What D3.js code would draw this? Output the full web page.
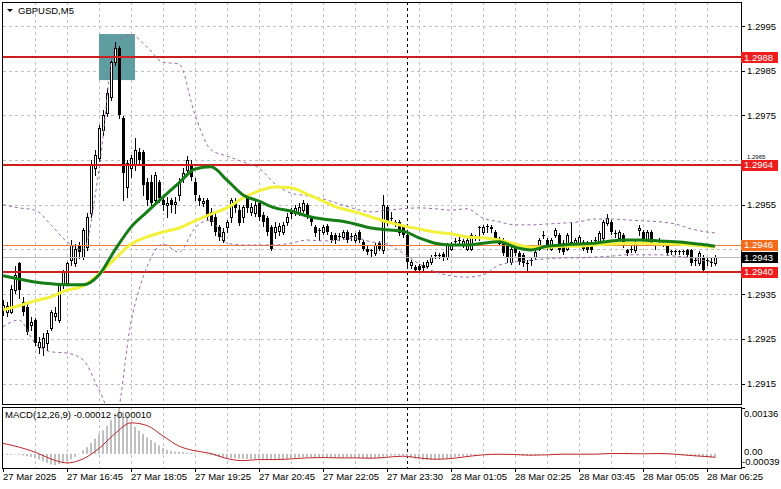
<!DOCTYPE html>
<html><head><meta charset="utf-8">
<script src="https://cdn.jsdelivr.net/npm/d3@7"></script>
<style>
body{margin:0;background:#fff}
svg{display:block}
text{font-family:"Liberation Sans",Arial,sans-serif;font-size:9.5px;fill:#000}
</style>
</head><body>
<svg id="chart" width="781" height="489"></svg>
<script>
// ---------------- DATA ----------------
const symbolTitle = "GBPUSD,M5";
const macdTitle = "MACD(12,26,9) -0.00012 -0.00010";
const timeTickBars = [0,16,32,48,64,80,96,112,128,144,160,176];
const timeLabels = ["27 Mar 2025","27 Mar 16:45","27 Mar 18:05","27 Mar 19:25","27 Mar 20:45","27 Mar 22:05",
  "27 Mar 23:30","28 Mar 01:05","28 Mar 02:25","28 Mar 03:45","28 Mar 05:05","28 Mar 06:25"];
const priceTicks = [1.2915,1.2925,1.2935,1.2945,1.2955,1.2965,1.2975,1.2985,1.2995];
const macdTicks = [0.00136, 0.00, -0.00039];
const redLevels = [1.2988, 1.2964, 1.2940];
const orangeLevel = 1.2946;
const daySeparatorBar = 101;
const highlightBox = {fromBar:24, toBar:33, top:1.29932, bottom:1.29829};

// candles: [open, high, low, close]
const ohlc = [
[1.29315,1.29337,1.29303,1.29326],[1.29310,1.29333,1.29301,1.29324],[1.29310,1.29371,1.29308,1.29362],[1.29359,1.29413,1.29353,1.29393],
[1.29419,1.29422,1.29342,1.29359],[1.29333,1.29344,1.29303,1.29310],[1.29321,1.29330,1.29261,1.29265],[1.29281,1.29299,1.29270,1.29288],
[1.29292,1.29297,1.29236,1.29240],[1.29232,1.29254,1.29218,1.29243],[1.29232,1.29263,1.29214,1.29252],[1.29240,1.29270,1.29225,1.29263],
[1.29274,1.29315,1.29270,1.29310],[1.29301,1.29321,1.29292,1.29308],[1.29292,1.29375,1.29288,1.29371],[1.29371,1.29404,1.29364,1.29400],
[1.29375,1.29422,1.29371,1.29419],[1.29426,1.29471,1.29415,1.29460],[1.29419,1.29462,1.29413,1.29452],[1.29460,1.29467,1.29431,1.29444],
[1.29433,1.29498,1.29429,1.29494],[1.29455,1.29532,1.29449,1.29523],[1.29532,1.29650,1.29523,1.29639],[1.29632,1.29673,1.29617,1.29661],
[1.29655,1.29729,1.29648,1.29722],[1.29717,1.29762,1.29706,1.29751],[1.29755,1.29812,1.29749,1.29800],[1.29791,1.29878,1.29784,1.29869],
[1.29869,1.29914,1.29863,1.29901],[1.29901,1.29905,1.29744,1.29751],[1.29744,1.29749,1.29561,1.29621],[1.29590,1.29650,1.29567,1.29644],
[1.29632,1.29661,1.29612,1.29655],[1.29639,1.29699,1.29628,1.29673],[1.29668,1.29677,1.29639,1.29650],[1.29668,1.29673,1.29572,1.29594],
[1.29601,1.29610,1.29550,1.29561],[1.29601,1.29617,1.29547,1.29554],[1.29561,1.29623,1.29554,1.29617],[1.29601,1.29605,1.29556,1.29565],
[1.29561,1.29572,1.29538,1.29550],[1.29550,1.29567,1.29523,1.29554],[1.29561,1.29565,1.29534,1.29550],[1.29552,1.29567,1.29532,1.29556],
[1.29572,1.29610,1.29561,1.29601],[1.29610,1.29632,1.29601,1.29621],[1.29628,1.29659,1.29621,1.29650],[1.29639,1.29650,1.29605,1.29612],
[1.29601,1.29610,1.29561,1.29572],[1.29565,1.29572,1.29550,1.29558],[1.29554,1.29565,1.29547,1.29558],[1.29561,1.29565,1.29516,1.29523],
[1.29534,1.29543,1.29505,1.29512],[1.29523,1.29532,1.29482,1.29489],[1.29500,1.29505,1.29471,1.29478],[1.29471,1.29498,1.29467,1.29489],
[1.29500,1.29516,1.29489,1.29512],[1.29523,1.29565,1.29512,1.29561],[1.29556,1.29565,1.29534,1.29543],[1.29538,1.29550,1.29505,1.29509],
[1.29523,1.29550,1.29512,1.29545],[1.29567,1.29572,1.29534,1.29543],[1.29534,1.29554,1.29527,1.29545],[1.29532,1.29561,1.29525,1.29550],
[1.29554,1.29561,1.29516,1.29523],[1.29527,1.29534,1.29503,1.29512],[1.29520,1.29525,1.29482,1.29489],[1.29500,1.29505,1.29449,1.29452],
[1.29489,1.29512,1.29476,1.29500],[1.29491,1.29509,1.29482,1.29503],[1.29489,1.29512,1.29484,1.29505],[1.29512,1.29532,1.29505,1.29523],
[1.29534,1.29543,1.29520,1.29530],[1.29532,1.29550,1.29527,1.29543],[1.29534,1.29554,1.29527,1.29545],[1.29538,1.29561,1.29534,1.29554],
[1.29550,1.29554,1.29520,1.29527],[1.29520,1.29523,1.29505,1.29512],[1.29500,1.29505,1.29480,1.29487],[1.29494,1.29498,1.29471,1.29491],
[1.29489,1.29505,1.29484,1.29500],[1.29503,1.29507,1.29484,1.29489],[1.29482,1.29489,1.29467,1.29471],[1.29482,1.29487,1.29464,1.29471],
[1.29478,1.29487,1.29471,1.29480],[1.29478,1.29494,1.29473,1.29489],[1.29489,1.29494,1.29467,1.29471],[1.29478,1.29487,1.29471,1.29480],
[1.29471,1.29487,1.29467,1.29482],[1.29489,1.29494,1.29467,1.29471],[1.29467,1.29471,1.29449,1.29452],[1.29452,1.29457,1.29440,1.29444],
[1.29447,1.29452,1.29433,1.29449],[1.29442,1.29464,1.29438,1.29460],[1.29464,1.29469,1.29449,1.29452],[1.29449,1.29572,1.29442,1.29550],
[1.29545,1.29550,1.29505,1.29512],[1.29518,1.29534,1.29516,1.29520],[1.29512,1.29516,1.29503,1.29509],[1.29512,1.29516,1.29482,1.29487],
[1.29500,1.29505,1.29478,1.29482],[1.29482,1.29487,1.29415,1.29422],[1.29415,1.29426,1.29409,1.29422],[1.29411,1.29415,1.29400,1.29404],
[1.29413,1.29417,1.29400,1.29404],[1.29415,1.29422,1.29404,1.29409],[1.29413,1.29426,1.29409,1.29422],[1.29422,1.29438,1.29417,1.29433],
[1.29435,1.29444,1.29431,1.29438],[1.29435,1.29442,1.29431,1.29438],[1.29440,1.29444,1.29426,1.29431],[1.29433,1.29464,1.29429,1.29460],
[1.29452,1.29467,1.29449,1.29462],[1.29467,1.29476,1.29462,1.29469],[1.29469,1.29478,1.29464,1.29471],[1.29460,1.29473,1.29455,1.29469],
[1.29452,1.29476,1.29449,1.29471],[1.29452,1.29487,1.29449,1.29482],[1.29476,1.29482,1.29471,1.29478],[1.29498,1.29502,1.29471,1.29500],
[1.29489,1.29505,1.29484,1.29500],[1.29503,1.29507,1.29489,1.29500],[1.29500,1.29505,1.29489,1.29496],[1.29489,1.29494,1.29467,1.29471],
[1.29464,1.29478,1.29460,1.29473],[1.29471,1.29476,1.29438,1.29442],[1.29460,1.29464,1.29422,1.29431],[1.29422,1.29460,1.29417,1.29452],
[1.29455,1.29460,1.29438,1.29442],[1.29442,1.29447,1.29417,1.29422],[1.29438,1.29442,1.29413,1.29419],[1.29417,1.29426,1.29402,1.29419],
[1.29424,1.29431,1.29415,1.29426],[1.29433,1.29449,1.29429,1.29444],[1.29452,1.29476,1.29449,1.29471],[1.29480,1.29491,1.29476,1.29482],
[1.29471,1.29476,1.29450,1.29455],[1.29452,1.29476,1.29449,1.29471],[1.29482,1.29498,1.29478,1.29494],[1.29482,1.29487,1.29444,1.29449],
[1.29464,1.29471,1.29440,1.29444],[1.29452,1.29487,1.29449,1.29482],[1.29464,1.29509,1.29460,1.29467],[1.29464,1.29476,1.29460,1.29471],
[1.29464,1.29482,1.29460,1.29478],[1.29467,1.29471,1.29449,1.29452],[1.29464,1.29469,1.29444,1.29449],[1.29467,1.29471,1.29444,1.29449],
[1.29469,1.29478,1.29464,1.29471],[1.29464,1.29491,1.29460,1.29487],[1.29476,1.29516,1.29471,1.29512],[1.29509,1.29529,1.29505,1.29520],
[1.29512,1.29516,1.29484,1.29489],[1.29484,1.29494,1.29478,1.29487],[1.29476,1.29494,1.29471,1.29489],[1.29482,1.29487,1.29455,1.29460],
[1.29449,1.29452,1.29438,1.29442],[1.29450,1.29460,1.29444,1.29452],[1.29449,1.29469,1.29444,1.29464],[1.29494,1.29505,1.29482,1.29498],
[1.29489,1.29494,1.29467,1.29471],[1.29464,1.29494,1.29460,1.29489],[1.29489,1.29494,1.29460,1.29464],[1.29457,1.29464,1.29452,1.29460],
[1.29469,1.29476,1.29464,1.29471],[1.29464,1.29469,1.29457,1.29462],[1.29464,1.29469,1.29438,1.29442],[1.29444,1.29449,1.29440,1.29447],
[1.29447,1.29449,1.29440,1.29444],[1.29444,1.29449,1.29440,1.29447],[1.29447,1.29449,1.29440,1.29444],[1.29449,1.29452,1.29433,1.29438],
[1.29449,1.29452,1.29415,1.29419],[1.29424,1.29433,1.29415,1.29426],[1.29419,1.29447,1.29415,1.29442],[1.29433,1.29438,1.29400,1.29404],
[1.29424,1.29433,1.29415,1.29426],[1.29422,1.29431,1.29413,1.29419],[1.29419,1.29438,1.29415,1.29433]
];

// indicator samples, read every 4 bars (bars 0,4,...,176) plus the last bar 178
const indBars = [0,4,8,12,16,20,24,28,32,36,40,44,48,52,56,60,64,68,72,76,80,84,88,92,96,100,104,108,112,116,120,124,128,132,136,140,144,148,152,156,160,164,168,172,176,178];
const maGreen = [1.29391,1.29384,1.29377,1.29373,1.29371,1.29371,1.29393,1.29449,1.29500,1.29534,1.29567,1.29599,1.29630,1.29635,1.29605,1.29572,
  1.29558,1.29543,1.29536,1.29525,1.29518,1.29514,1.29507,1.29498,1.29494,1.29491,1.29476,1.29464,1.29460,1.29460,1.29464,1.29467,
  1.29455,1.29449,1.29457,1.29460,1.29462,1.29464,1.29469,1.29471,1.29471,1.29469,1.29467,1.29464,1.29460,1.29457];
const maYellow = [1.29315,1.29324,1.29335,1.29344,1.29359,1.29368,1.29395,1.29429,1.29462,1.29478,1.29489,1.29498,1.29514,1.29529,1.29543,1.29565,
  1.29581,1.29590,1.29588,1.29574,1.29558,1.29543,1.29534,1.29523,1.29512,1.29503,1.29496,1.29489,1.29485,1.29478,1.29476,1.29471,
  1.29462,1.29455,1.29455,1.29457,1.29457,1.29460,1.29462,1.29464,1.29464,1.29462,1.29462,1.29460,1.29457,1.29455];
const bandUpper = [1.29550,1.29543,1.29538,1.29505,1.29467,1.29449,1.29628,1.29907,1.29930,1.29903,1.29869,1.29865,1.29751,1.29673,1.29659,1.29646,
  1.29632,1.29597,1.29576,1.29570,1.29563,1.29552,1.29541,1.29534,1.29538,1.29541,1.29543,1.29541,1.29538,1.29541,1.29520,1.29512,
  1.29505,1.29505,1.29507,1.29509,1.29512,1.29518,1.29518,1.29516,1.29514,1.29512,1.29507,1.29496,1.29489,1.29487];
const bandLower = [1.29277,1.29292,1.29240,1.29221,1.29218,1.29203,1.29136,1.29069,1.29288,1.29411,1.29462,1.29444,1.29498,1.29516,1.29464,1.29460,
  1.29460,1.29460,1.29464,1.29471,1.29469,1.29471,1.29476,1.29467,1.29462,1.29442,1.29418,1.29400,1.29391,1.29388,1.29393,1.29415,
  1.29422,1.29426,1.29429,1.29431,1.29431,1.29433,1.29435,1.29438,1.29438,1.29438,1.29435,1.29431,1.29424,1.29422];
const macdSignal = [0.00031,0.00020,0.00005,-0.00015,-0.00027,-0.00015,0.00016,0.00060,0.00092,0.00084,0.00053,0.00023,0.00009,0.00001,-0.00014,-0.00020,
  -0.00017,-0.00017,-0.00015,-0.00012,-0.00011,-0.00012,-0.00012,-0.00013,-0.00010,-0.00007,-0.00012,-0.00016,-0.00014,-0.00008,-0.00003,-0.00001,
  -0.00002,-0.00004,-0.00003,-0.00001,-0.00001,-0.00001,0.00001,0.00001,0.00000,0.00001,-0.00001,-0.00005,-0.00008,-0.00010];
// MACD main line (histogram), one value per bar
const macdHist = [
-0.00002,-0.00003,-0.00003,-0.00002,-0.00003,-0.00005,-0.00007,-0.00009,-0.00013,-0.00017,
-0.00022,-0.00027,-0.00031,-0.00033,-0.00031,-0.00027,-0.00022,-0.00016,-0.00009,-0.00001,
0.00010,0.00020,0.00032,0.00045,0.00058,0.00070,0.00083,0.00100,0.00120,0.00136,
0.00125,0.00110,0.00092,0.00080,0.00069,0.00059,0.00049,0.00041,0.00033,0.00025,
0.00017,0.00012,0.00009,0.00007,0.00006,0.00005,0.00004,0.00003,0.00002,0.00000,
-0.00001,-0.00002,-0.00004,-0.00007,-0.00010,-0.00012,-0.00013,-0.00013,-0.00013,-0.00014,
-0.00015,-0.00015,-0.00015,-0.00016,-0.00016,-0.00016,-0.00017,-0.00018,-0.00018,-0.00017,
-0.00016,-0.00015,-0.00014,-0.00012,-0.00011,-0.00010,-0.00010,-0.00010,-0.00011,-0.00011,
-0.00011,-0.00011,-0.00012,-0.00012,-0.00012,-0.00012,-0.00012,-0.00012,-0.00012,-0.00012,
-0.00013,-0.00014,-0.00014,-0.00013,-0.00013,-0.00008,-0.00006,-0.00005,-0.00005,-0.00005,
-0.00005,-0.00008,-0.00011,-0.00014,-0.00016,-0.00018,-0.00018,-0.00018,-0.00017,-0.00016,
-0.00015,-0.00013,-0.00011,-0.00009,-0.00008,-0.00007,-0.00006,-0.00005,-0.00004,-0.00002,
-0.00001,0.00000,0.00000,-0.00001,-0.00001,-0.00002,-0.00003,-0.00003,-0.00003,-0.00004,
-0.00005,-0.00005,-0.00005,-0.00004,-0.00003,-0.00002,-0.00002,-0.00001,-0.00001,-0.00001,
-0.00001,-0.00001,-0.00001,-0.00001,-0.00001,-0.00001,-0.00001,-0.00001,-0.00001,0.00000,
0.00001,0.00002,0.00002,0.00002,0.00002,0.00001,0.00000,0.00000,0.00000,0.00001,
0.00001,0.00001,0.00001,0.00001,0.00000,0.00000,-0.00001,-0.00002,-0.00003,-0.00003,
-0.00004,-0.00005,-0.00006,-0.00007,-0.00008,-0.00009,-0.00010,-0.00011,-0.00012
];

// ---------------- LAYOUT ----------------
const L = 3, R = 741, T = 2, B = 404, MT = 407, MB = 468;
const svg = d3.select("#chart");
svg.append("rect").attr("width",781).attr("height",489).attr("fill","#fff");

const x = d3.scaleLinear().domain([0, 178]).range([3, 715]);
const y = d3.scaleLinear().domain([1.2915, 1.2995]).range([383.5, 26]);
const ym = d3.scaleLinear().domain([-0.00039, 0.00136]).range([467, 408]);

const defs = svg.append("defs");
defs.append("clipPath").attr("id","mainClip").append("rect").attr("x",L).attr("y",T+1).attr("width",R-L).attr("height",B-T-1);
defs.append("clipPath").attr("id","macdClip").append("rect").attr("x",L).attr("y",MT+1).attr("width",R-L).attr("height",MB-MT-1);

const gridColor = "#c0c0c0";
const gridBars = d3.range(8, 179, 8);
[[T,B],[MT,MB]].forEach(([a,b])=>{
  svg.append("g").selectAll("line").data(gridBars).join("line")
    .attr("x1",d=>Math.round(x(d))+0.5).attr("x2",d=>Math.round(x(d))+0.5)
    .attr("y1",a).attr("y2",b)
    .attr("stroke",gridColor).attr("stroke-dasharray","3,3");
});
svg.append("g").selectAll("line").data(priceTicks).join("line")
  .attr("x1",L).attr("x2",R)
  .attr("y1",d=>Math.round(y(d))+0.5).attr("y2",d=>Math.round(y(d))+0.5)
  .attr("stroke",gridColor).attr("stroke-dasharray","3,3");

[[T,B],[MT,MB]].forEach(([a,b])=>{
  svg.append("line").attr("x1",Math.round(x(daySeparatorBar))+0.5).attr("x2",Math.round(x(daySeparatorBar))+0.5)
    .attr("y1",a).attr("y2",b).attr("stroke","#000").attr("stroke-dasharray","3,3");
});

const main = svg.append("g").attr("clip-path","url(#mainClip)");

main.append("rect")
  .attr("x",x(highlightBox.fromBar)).attr("y",y(highlightBox.top))
  .attr("width",x(highlightBox.toBar)-x(highlightBox.fromBar))
  .attr("height",y(highlightBox.bottom)-y(highlightBox.top))
  .attr("fill","#5f9ea0");

const cg = main.append("g");
ohlc.forEach((d,i)=>{
  const [o,h,l,c] = d;
  const cx = Math.round(x(i));
  const yh = Math.round(y(h)), yl = Math.round(y(l));
  const yo = Math.round(y(o)), yc = Math.round(y(c));
  cg.append("line").attr("x1",cx+0.5).attr("x2",cx+0.5).attr("y1",yh).attr("y2",yl+1).attr("stroke","#000");
  const top = Math.min(yo,yc), bot = Math.max(yo,yc);
  if (c >= o && bot - top >= 2) {
    cg.append("rect").attr("x",cx-0.5).attr("y",top+0.5).attr("width",2).attr("height",bot-top)
      .attr("fill","#fff").attr("stroke","#000");
  } else {
    cg.append("rect").attr("x",cx-1).attr("y",top).attr("width",3).attr("height",Math.max(bot-top,1)).attr("fill","#000");
  }
});

const lastClose = ohlc[ohlc.length-1][3];
main.append("line").attr("x1",L).attr("x2",R).attr("y1",Math.round(y(lastClose))+0.5).attr("y2",Math.round(y(lastClose))+0.5)
  .attr("stroke","#b8b8b8");
main.append("line").attr("x1",L).attr("x2",R).attr("y1",Math.round(y(orangeLevel))+0.5).attr("y2",Math.round(y(orangeLevel))+0.5)
  .attr("stroke","#e8803a");
main.append("g").selectAll("line").data(redLevels).join("line")
  .attr("x1",L).attr("x2",R).attr("y1",d=>Math.round(y(d))).attr("y2",d=>Math.round(y(d)))
  .attr("stroke","#cc1f1f").attr("stroke-width",2);

const lineGen = arr => d3.line().x((d,k)=>x(indBars[k])).y(d=>y(d)).curve(d3.curveMonotoneX)(arr);
main.append("path").attr("d",lineGen(bandUpper)).attr("fill","none").attr("stroke","#9a6aa8").attr("stroke-dasharray","3,3");
main.append("path").attr("d",lineGen(bandLower)).attr("fill","none").attr("stroke","#9a6aa8").attr("stroke-dasharray","3,3");
main.append("path").attr("d",lineGen(maYellow)).attr("fill","none").attr("stroke","#f2f23c").attr("stroke-width",3);
main.append("path").attr("d",lineGen(maGreen)).attr("fill","none").attr("stroke","#167d16").attr("stroke-width",3);

const mg = svg.append("g").attr("clip-path","url(#macdClip)");
mg.selectAll("rect").data(macdHist).join("rect")
  .attr("x",(d,i)=>Math.round(x(i))-1).attr("width",2)
  .attr("y",d=>Math.min(ym(d),ym(0))).attr("height",d=>Math.max(Math.abs(ym(d)-ym(0)),0.5))
  .attr("fill","#c0c0c0");
mg.append("path").attr("d",d3.line().x((d,k)=>x(indBars[k])).y(d=>ym(d)).curve(d3.curveMonotoneX)(macdSignal))
  .attr("fill","none").attr("stroke","#c0282d").attr("stroke-width",1);

const frame = svg.append("g").attr("stroke","#000").attr("fill","none");
frame.append("rect").attr("x",L-0.5).attr("y",T+0.5).attr("width",R-L+1).attr("height",B-T);
frame.append("rect").attr("x",L-0.5).attr("y",MT+0.5).attr("width",R-L+1).attr("height",MB-MT);

// right price axis: labels covered by a level box are not drawn (as in the reference);
// a label that sits just above a box peeks out in a smaller size
const boxLevels = redLevels.concat([orangeLevel, lastClose]);
const visibleTicks = priceTicks.filter(p => !boxLevels.some(v => Math.abs(y(v)-y(p)) < 5));
const peekTicks = priceTicks.filter(p => !visibleTicks.includes(p) &&
  boxLevels.every(v => y(v) > y(p) || Math.abs(y(v)-y(p)) >= 8));
const ra = svg.append("g");
ra.selectAll("line").data(priceTicks).join("line")
  .attr("x1",R).attr("x2",R+4).attr("y1",d=>Math.round(y(d))+0.5).attr("y2",d=>Math.round(y(d))+0.5).attr("stroke","#000");
ra.append("g").selectAll("text").data(visibleTicks).join("text")
  .attr("x",747).attr("y",d=>y(d)+3.5).text(d=>d.toFixed(4));
ra.append("g").selectAll("text").data(peekTicks).join("text")
  .attr("x",747).attr("y",d=>y(d)-1.5).style("font-size","6px").text(d=>d.toFixed(4));

svg.append("g").selectAll("line").data([macdTicks[0],macdTicks[2]]).join("line")
  .attr("x1",R).attr("x2",R+4).attr("y1",d=>Math.round(ym(d))+0.5).attr("y2",d=>Math.round(ym(d))+0.5).attr("stroke","#000");
svg.append("text").attr("x",744).attr("y",417).text(macdTicks[0].toFixed(5));
svg.append("text").attr("x",744).attr("y",455).text(macdTicks[1].toFixed(2));
svg.append("text").attr("x",742).attr("y",465).text(macdTicks[2].toFixed(5));

function levelLabel(v, bg) {
  const cy = y(v);
  svg.append("rect").attr("x",R).attr("y",Math.round(cy)-5).attr("width",37).attr("height",11).attr("fill",bg);
  svg.append("text").attr("x",744).attr("y",cy+3.5).style("fill","#fff").text(v.toFixed(4));
}
redLevels.forEach(v=>levelLabel(v,"#ee1c1c"));
levelLabel(orangeLevel,"#f26b1d");
levelLabel(lastClose,"#000");

svg.append("g").selectAll("line").data(timeTickBars).join("line")
  .attr("x1",d=>Math.round(x(d))+0.5).attr("x2",d=>Math.round(x(d))+0.5).attr("y1",MB).attr("y2",MB+4).attr("stroke","#000");
svg.append("g").selectAll("text").data(timeTickBars).join("text")
  .attr("x",d=>Math.round(x(d))).attr("y",480).text((d,k)=>timeLabels[k]);

svg.append("path").attr("d","M7,9 L13,9 L10,12 Z").attr("fill","#000");
svg.append("text").attr("x",18).attr("y",14).text(symbolTitle);
svg.append("text").attr("x",5).attr("y",418).text(macdTitle);
</script>
</body></html>
